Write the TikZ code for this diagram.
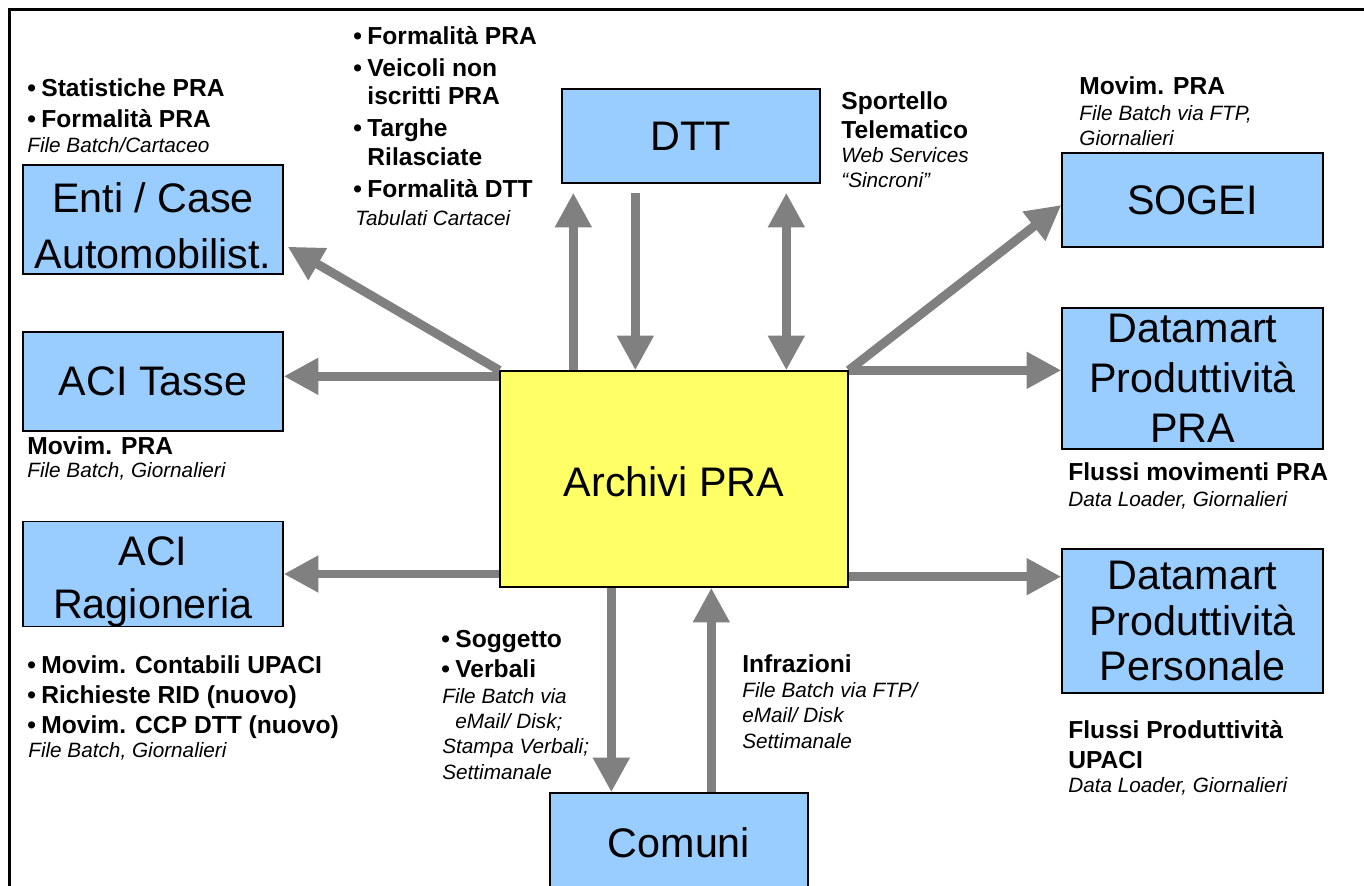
\documentclass[tikz,border=0pt]{standalone}
\usepackage{fontspec}
\setmainfont{Liberation Sans}
\usetikzlibrary{calc,arrows.meta}
\definecolor{sysblue}{HTML}{99CCFF}
\definecolor{prayellow}{HTML}{FFFF66}
\definecolor{flowgray}{HTML}{808080}
\newcommand{\bul}{\makebox[8pt][l]{\textbullet}}
\newcommand{\ind}{\hspace*{8pt}}

\begin{document}
\begin{tikzpicture}[x=0.02cm, y=-0.02cm,
		sys/.style={draw=black, line width=0.8pt, fill=sysblue, inner sep=0pt, align=center},
		flow/.style={draw=flowgray, line width=5.1pt, -{Triangle[length=19.8pt, width=19.8pt]}},
		items/.style={anchor=base west, inner sep=0pt, align=left, font=\bfseries\fontsize{14}{17}\selectfont},
		how/.style={anchor=base west, inner sep=0pt, align=left, font=\itshape\fontsize{11.8}{14.4}\selectfont}]
		%%%%% START %%%%%
		
		\useasboundingbox (0, 0) rectangle (1364, 885);
		\clip (0, 0) rectangle (1364, 885);
		\draw[line width=1.7pt] (9.5, 900) -- (9.5, 9.5) -- (1380, 9.5);
		
		\node[sys, fill=prayellow, minimum width=6.96cm, minimum height=4.32cm, font=\fontsize{23.5}{28}\selectfont] (archivi) at (674, 479) {\rule{0pt}{20pt}Archivi PRA};
		
		\node[sys, minimum width=5.2cm, minimum height=2.18cm, font=\fontsize{23.5}{32}\selectfont] (enti) at (153, 219.5) {\rule{0pt}{24pt}Enti / Case\\Automobilist.};
		\node[sys, minimum width=5.2cm, minimum height=1.98cm, font=\fontsize{23.5}{28}\selectfont] (tasse) at (153, 381.5) {ACI Tasse};
		\node[sys, minimum width=5.2cm, minimum height=2.04cm, font=\fontsize{23.5}{30}\selectfont] (ragio) at (153, 574) {\rule{0pt}{25pt}ACI\\Ragioneria};
		
		\node[sys, minimum width=5.16cm, minimum height=1.88cm, font=\fontsize{23.5}{28}\selectfont] (dtt) at (691, 136) {DTT};
		\node[sys, minimum width=5.16cm, minimum height=2cm, font=\fontsize{23.5}{28}\selectfont] (comuni) at (679, 843) {Comuni};
		
		\node[sys, minimum width=5.22cm, minimum height=1.88cm, font=\fontsize{23.5}{28}\selectfont] (sogei) at (1192.5, 200) {SOGEI};
		\node[sys, minimum width=5.22cm, minimum height=2.82cm, font=\fontsize{23.5}{28.5}\selectfont] (dmpra) at (1192.5, 378.5) {Datamart\\Produttività\\PRA};
		\node[sys, minimum width=5.22cm, minimum height=2.88cm, font=\fontsize{23.5}{26}\selectfont] (dmpers) at (1192.5, 621) {Datamart\\Produttività\\Personale};
		
		% left side
		\coordinate (tasseout) at ($(archivi.north west)+(0, 6)$);
		\draw[flow] (archivi.north west) -- ($(enti.south east)+(4, -28)$);
		\draw[flow] (tasseout) -- (tasseout -| tasse.east);
		\draw[flow] (archivi.west |- ragio.east) -- (ragio.east);
		
		% DTT
		\coordinate (dttup) at ($(dtt.south west)+(12, 9)$);
		\coordinate (dttdown) at ($(dtt.south west)+(74, 9)$);
		\coordinate (dttboth) at ($(dtt.south west)+(225, 9)$);
		\draw[flow] (dttup |- archivi.north) -- (dttup);
		\draw[flow] (dttdown) -- (dttdown |- archivi.north);
		\draw[flow, {Triangle[length=19.8pt, width=19.8pt]}-{Triangle[length=19.8pt, width=19.8pt]}] (dttboth) -- (dttboth |- archivi.north);
		
		% right side
		\coordinate (dmpersout) at ($(archivi.south east)+(0, -11)$);
		\draw[flow] (archivi.north east) -- ($(sogei.west)+(0, 5)$);
		\draw[flow] (archivi.north east) -- (archivi.north east -| dmpra.west);
		\draw[flow] (dmpersout) -- (dmpersout -| dmpers.west);
		
		% Comuni
		\coordinate (comin) at ($(comuni.north west)+(62, 0)$);
		\coordinate (comout) at ($(comuni.north west)+(162, 0)$);
		\draw[flow] (comin |- archivi.south) -- (comin);
		\draw[flow] (comout) -- (comout |- archivi.south);
		
		% labels (base = last line)
		\node[items] (entiitems) at (27, 128) {\bul Statistiche PRA\\[1.2pt]\bul Formalità PRA};
		\node[how] (entihow) at (27, 153) {File Batch/Cartaceo};
		
		\node[items] (dttitems) at (353, 197) {\bul Formalità PRA\\[1.2pt]\bul Veicoli non\\[-0.8pt]\ind iscritti PRA\\[1.2pt]\bul Targhe\\[-0.8pt]\ind Rilasciate\\[1.2pt]\bul Formalità DTT};
		\node[how] (dtthow) at (355, 225) {Tabulati Cartacei};
		
		\node[items] (sporitems) at (841, 139) {Sportello\\Telematico};
		\node[how] (sporhow) at (841, 188) {Web Services\\“Sincroni”};
		
		\node[items] (sogeiitems) at (1079, 95) {Movim. PRA};
		\node[how] (sogeihow) at (1079, 146) {File Batch via FTP,\\Giornalieri};
		
		\node[items] (tasseitems) at (27, 454) {Movim. PRA};
		\node[how] (tassehow) at (27, 477) {File Batch, Giornalieri};
		
		\node[items] (ragioitems) at (27, 733) {\bul Movim. Contabili UPACI\\\bul Richieste RID (nuovo)\\\bul Movim. CCP DTT (nuovo)};
		\node[how] (ragiohow) at (28, 757) {File Batch, Giornalieri};
		
		\node[items] (comitems) at (441, 677) {\bul Soggetto\\\bul Verbali};
		\node[how] (comhow) at (442, 779) {File Batch via\\\hspace*{7.4pt}eMail/ Disk;\\Stampa Verbali;\\Settimanale};
		
		\node[items] (infitems) at (742, 672) {Infrazioni};
		\node[how] (infhow) at (742, 748) {File Batch via FTP/\\eMail/ Disk\\Settimanale};
		
		\node[items] (dmpraitems) at (1068, 480) {Flussi movimenti PRA};
		\node[how] (dmprahow) at (1068, 506) {Data Loader, Giornalieri};
		
		\node[items] (dmpersitems) at (1068, 768) {Flussi Produttività\\UPACI};
		\node[how] (dmpershow) at (1068, 792) {Data Loader, Giornalieri};
		
		%%%%% END %%%%%
	\end{tikzpicture}
\end{document}
